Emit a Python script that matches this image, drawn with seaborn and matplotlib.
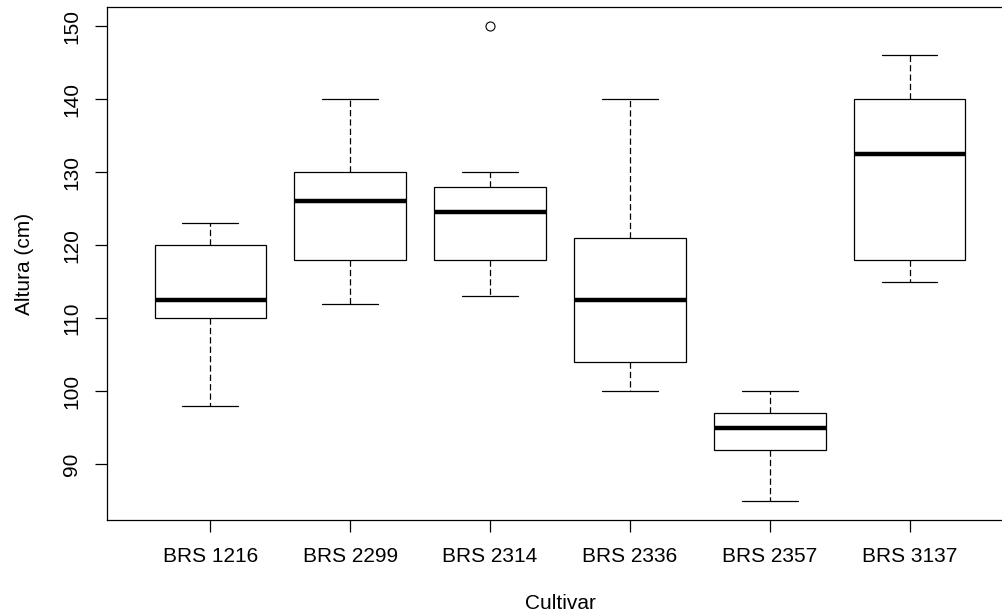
import pandas as pd
import numpy as np
import matplotlib
matplotlib.use("Agg")
import matplotlib.pyplot as plt
import seaborn as sns

# plant height (cm) per cultivar, 10 plants each
cultivares = ["BRS 1216", "BRS 2299", "BRS 2314", "BRS 2336", "BRS 2357", "BRS 3137"]
brs1216 = [98, 105, 110, 110, 112, 113, 120, 120, 121, 123]
brs2299 = [112, 115, 118, 118, 126, 126, 130, 130, 135, 140]
brs2314 = [113, 116, 118, 118, 124, 125, 128, 128, 130, 150]
brs2336 = [100, 102, 104, 104, 112, 113, 121, 121, 130, 140]
brs2357 = [85, 90, 92, 92, 95, 95, 97, 97, 98, 100]
brs3137 = [115, 117, 118, 118, 132, 133, 140, 140, 143, 146]
yticks = [90, 100, 110, 120, 130, 140, 150]

alturas = [brs1216, brs2299, brs2314, brs2336, brs2357, brs3137]
df = pd.DataFrame({
    "Cultivar": np.repeat(cultivares, [len(a) for a in alturas]),
    "Altura": np.concatenate(alturas),
})

sns.set_style("white")
plt.rcParams["font.family"] = ["Liberation Sans", "DejaVu Sans"]
plt.rcParams.update({"text.color": "black", "axes.labelcolor": "black",
                     "xtick.color": "black", "ytick.color": "black"})

fig = plt.figure(figsize=(10.03, 6.14), dpi=100)
ax = fig.add_axes([107 / 1003, 94 / 614, 906 / 1003, 513 / 614])

sns.boxplot(data=df, x="Cultivar", y="Altura", order=cultivares, ax=ax,
            color="white", linecolor="black", linewidth=0.9, width=0.8,
            whiskerprops={"linestyle": (0, (5, 2.5))},
            medianprops={"linewidth": 3.2},
            flierprops={"marker": "o", "markerfacecolor": "none",
                        "markeredgewidth": 0.8},
            fliersize=6.5)

ax.set_xlim(-0.74, 5.74)
ax.set_ylim(82.4, 152.6)
ax.set_yticks(yticks)
ax.set_yticklabels([str(v) for v in yticks])

for s in ax.spines.values():
    s.set_visible(True)
    s.set_color("black")
    s.set_linewidth(0.9)

ax.tick_params(axis="both", direction="out", length=8.6, width=0.9,
               color="black", labelcolor="black", labelsize=15,
               left=True, bottom=True)
ax.tick_params(axis="x", pad=11)
ax.tick_params(axis="y", pad=10, labelrotation=90)
for lab in ax.get_yticklabels():
    lab.set_va("center")

ax.set_xlabel("Cultivar", fontsize=15, labelpad=20)
ax.set_ylabel("Altura (cm)", fontsize=15, labelpad=20)

fig.savefig("out.png", dpi=100)
